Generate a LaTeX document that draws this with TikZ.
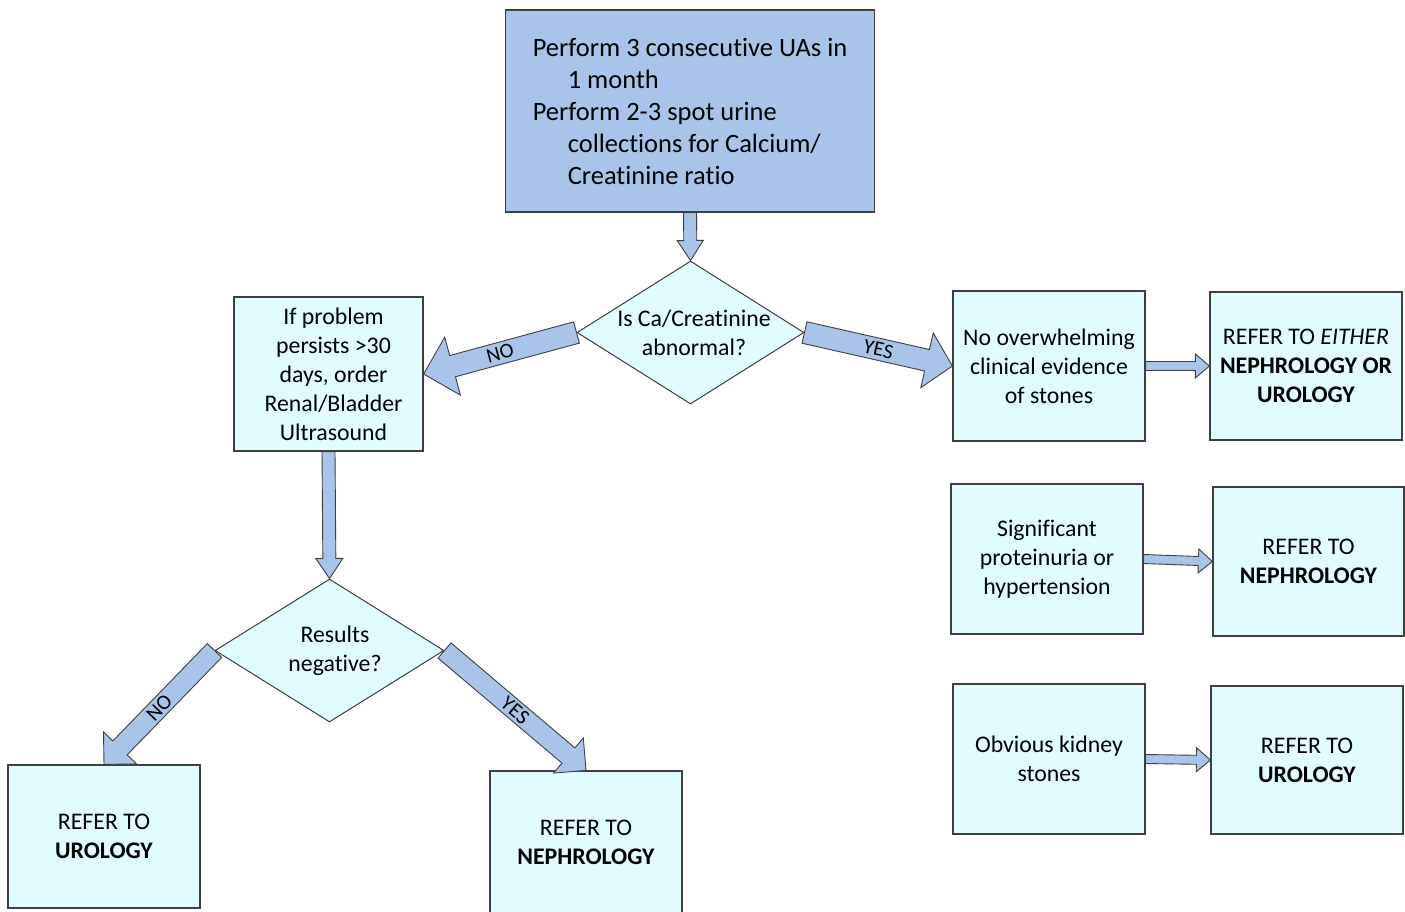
\documentclass[tikz,border=0pt]{standalone}
\usepackage{fontspec}
\setmainfont{Carlito}[Ligatures=NoCommon]
\usetikzlibrary{shapes.geometric,calc}
\definecolor{darkfill}{HTML}{A9C4EB}
\definecolor{lightfill}{HTML}{E0FCFF}
\definecolor{edgecol}{HTML}{3F3F3F}
\tikzset{
  box/.style={draw=edgecol, line width=1.2pt, fill=lightfill, rectangle, inner sep=0pt,
    align=center, font=\fontsize{23.8}{29}\selectfont},
  topbox/.style={box, fill=darkfill, align=left, font=\fontsize{26.5}{32}\selectfont},
  decision/.style={draw=edgecol, line width=1pt, fill=lightfill, diamond, inner sep=0pt},
  dlabel/.style={align=center, font=\fontsize{23.8}{29}\selectfont},
  arrowshape/.style={draw=edgecol, line width=0.9pt, fill=darkfill, line join=miter},
  lbl/.style={font=\fontsize{21}{23}\selectfont, inner sep=0pt}
}
% from, to, half shaft, half head, head length, label
\newcommand\blockarr[6]{%
  \coordinate (ba-h) at ($(#2)!#5!(#1)$);
  \draw[arrowshape] ($(#1)!#3!90:(#2)$) -- ($(ba-h)!#3!90:(#2)$) -- ($(ba-h)!#4!90:(#2)$)
    -- (#2) -- ($(ba-h)!#4!-90:(#2)$) -- ($(ba-h)!#3!-90:(#2)$) -- ($(#1)!#3!-90:(#2)$) -- cycle;
  \path (#1) -- (#2) node[midway, sloped, lbl] {#6};}
\begin{document}
\begin{tikzpicture}[x=1pt, y=-1pt]
\useasboundingbox[fill=white] (0,0) rectangle (1405,911);

\node[topbox, minimum width=369pt, minimum height=202pt] (top) at (690,111)
  {Perform 3 consecutive UAs in\\\hspace*{35pt}1 month\\Perform 2-3 spot urine\\\hspace*{35pt}collections for Calcium/\\\hspace*{35pt}Creatinine ratio};

\node[decision, minimum width=227pt, minimum height=143pt] (d1) at (690.5,332.5) {};
\node[dlabel] (d1t) at (694,332.5) {Is Ca/Creatinine\\abnormal?};

\node[box, minimum width=189pt, minimum height=154pt] (lp) at (328.5,374)
  {\hspace*{10pt}If problem\\\hspace*{10pt}persists >30\\\hspace*{10pt}days, order\\\hspace*{10pt}Renal/Bladder\\\hspace*{10pt}Ultrasound};

\node[decision, minimum width=229pt, minimum height=143pt] (d2) at (329.5,650.5) {};
\node[dlabel] (d2t) at (335,650.5) {Results\\negative?};

\node[box, minimum width=192pt, minimum height=143pt] (bl) at (104,836.5)
  {REFER TO\\\textbf{UROLOGY}};
\node[box, minimum width=192pt, minimum height=142pt] (bm) at (586,842)
  {REFER TO\\\textbf{NEPHROLOGY}};

\node[box, minimum width=192pt, minimum height=150pt] (b1) at (1049,366)
  {No overwhelming\\clinical evidence\\of stones};
\node[box, minimum width=192pt, minimum height=148pt] (b2) at (1306,366)
  {REFER TO \textit{EITHER}\\\textbf{NEPHROLOGY OR}\\\textbf{UROLOGY}};
\node[box, minimum width=192pt, minimum height=150pt] (b3) at (1047,559)
  {Significant\\proteinuria or\\hypertension};
\node[box, minimum width=191pt, minimum height=149pt] (b4) at (1308.5,561.5)
  {REFER TO\\\textbf{NEPHROLOGY}};
\node[box, minimum width=192pt, minimum height=150pt] (b5) at (1049,759)
  {Obvious kidney\\stones};
\node[box, minimum width=192pt, minimum height=148pt] (b6) at (1307,760)
  {REFER TO\\\textbf{UROLOGY}};

\blockarr{top.south}{d1.north}{6.5pt}{13pt}{20pt}{}
\blockarr{d1.west}{lp.east}{11pt}{30pt}{30pt}{NO}
\blockarr{d1.east}{b1.west}{11pt}{28pt}{26pt}{YES}
\blockarr{lp.south}{d2.north}{6.5pt}{13.5pt}{20pt}{}
\blockarr{d2.west}{bl.north}{10pt}{23pt}{23pt}{NO}
\blockarr{d2.east}{bm.north}{10pt}{23pt}{23pt}{YES}
\blockarr{b1.east}{b2.west}{4.5pt}{12pt}{14pt}{}
\blockarr{b3.east}{b4.west}{4.5pt}{12pt}{14pt}{}
\blockarr{b5.east}{b6.west}{4.5pt}{12pt}{14pt}{}
\end{tikzpicture}
\end{document}
